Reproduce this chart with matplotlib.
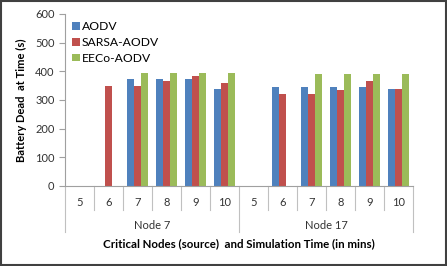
import numpy as np
import matplotlib.pyplot as plt
from matplotlib.patches import Rectangle

plt.rcParams['font.family'] = ['Lato', 'DejaVu Sans']

groups = ['Node 7', 'Node 17']
times = ['5', '6', '7', '8', '9', '10']
series = ['AODV', 'SARSA-AODV', 'EECo-AODV']
colors = ['#4F81BD', '#C0504D', '#9BBB59']

# 0 means no bar (node did not die in that run)
aodv = [0, 0, 375, 375, 375, 340,
        0, 345, 345, 345, 345, 340]
sarsa = [0, 350, 350, 365, 385, 360,
         0, 320, 320, 335, 365, 340]
eeco = [0, 0, 395, 395, 395, 395,
        0, 0, 390, 390, 390, 390]

values = [aodv, sarsa, eeco]
n = len(groups) * len(times)
x = np.arange(n)

fig = plt.figure(figsize=(4.47, 2.66), dpi=100)
ax = fig.add_axes([65 / 447, (266 - 186) / 266, (413 - 65) / 447, 172 / 266])

w = 0.23
for i, (name, vals, c) in enumerate(zip(series, values, colors)):
    ax.bar(x + (i - 1) * w, vals, width=w, color=c, label=name)

ax.set_xlim(-0.5, n - 0.5)
ax.set_ylim(0, 600)
ax.set_yticks(range(0, 601, 100))
ax.tick_params(axis='y', length=4, color='#a0a0a0', labelsize=8, labelcolor='#333333')
ax.set_xticks(x)
ax.set_xticklabels(times * len(groups))
ax.tick_params(axis='x', length=0, labelsize=8, labelcolor='#333333', pad=8)
for s in ['top', 'right']:
    ax.spines[s].set_visible(False)
ax.spines['left'].set_color('#a0a0a0')
ax.spines['bottom'].set_color('#a0a0a0')

# multi-level category axis
trans = ax.get_xaxis_transform()
for k in range(n + 1):
    xs = k - 0.5
    bottom = -0.27 if k % len(times) == 0 else -0.14
    ax.plot([xs, xs], [0, bottom], transform=trans, color='#c0c0c0', lw=0.8, clip_on=False)
for g, name in enumerate(groups):
    ax.text(g * len(times) + (len(times) - 1) / 2, -0.23, name, transform=trans,
            ha='center', va='center', fontsize=8, color='#333333')

ax.set_ylabel('Battery Dead  at Time (s)', fontsize=8, fontweight='bold', labelpad=6)
fig.text(0.5 * (102 + 376) / 447, (266 - 244) / 266,
         'Critical Nodes (source)  and Simulation Time (in mins)',
         ha='center', va='center', fontsize=8.3, fontweight='bold')

ax.legend(loc='upper left', bbox_to_anchor=(0.0, 1.0), frameon=False, fontsize=8.7,
          handlelength=0.6, handleheight=0.6, handletextpad=0.2, labelspacing=0.4,
          borderaxespad=0.2)

fig.patches.append(Rectangle((0.002, 0.003), 0.995, 0.993, transform=fig.transFigure,
                             fill=False, edgecolor='#404040', lw=1.5))

fig.savefig('out.png', dpi=100)
